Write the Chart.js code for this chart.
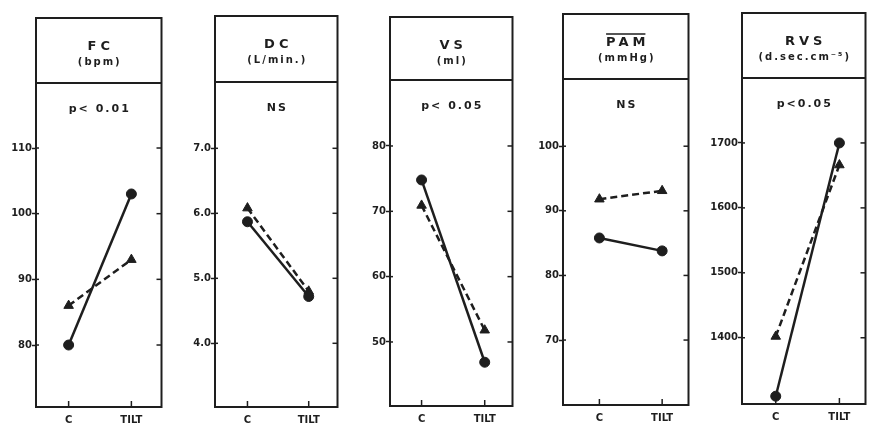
<!DOCTYPE html>
<html>
<head>
<meta charset="utf-8">
<script src="https://cdn.jsdelivr.net/npm/chart.js@4/dist/chart.umd.min.js"></script>
<style>
  html, body { margin:0; padding:0; background:#ffffff; overflow:hidden; }
  body { width:871px; height:425px; position:relative; }
  .panel { position:absolute; top:0; height:425px; }
</style>
</head>
<body>
<div id="wrap"></div>
<script>
// ---- data ----
const categories = ['C', 'TILT'];

const titles = ['FC', 'DC', 'VS', 'PAM', 'RVS'];
const units  = ['(bpm)', '(L/min.)', '(ml)', '(mmHg)', '(d.sec.cm\u207B\u2075)'];
const pvalues = ['p< 0.01', 'NS', 'p< 0.05', 'NS', 'p<0.05'];

const fcCircle = [80, 103];
const fcTriangle = [86, 93];
const fcTicks = [80, 90, 100, 110];
const fcTickLabels = ['80', '90', '100', '110'];

const dcCircle = [5.87, 4.72];
const dcTriangle = [6.08, 4.80];
const dcTicks = [4, 5, 6, 7];
const dcTickLabels = ['4.0', '5.0', '6.0', '7.0'];

const vsCircle = [74.8, 46.9];
const vsTriangle = [70.9, 51.8];
const vsTicks = [50, 60, 70, 80];
const vsTickLabels = ['50', '60', '70', '80'];

const pamCircle = [85.8, 83.8];
const pamTriangle = [91.8, 93.1];
const pamTicks = [70, 80, 90, 100];
const pamTickLabels = ['70', '80', '90', '100'];

const rvsCircle = [1310, 1700];
const rvsTriangle = [1402, 1666];
const rvsTicks = [1400, 1500, 1600, 1700];
const rvsTickLabels = ['1400', '1500', '1600', '1700'];

// ---- layout (positions / sizes) ----
const INK = '#1e1e1e';
const panels = [
  { circle: fcCircle,  tri: fcTriangle,  ticks: fcTicks,  labels: fcTickLabels,  L:36,  R:166, T:18, D:83, B:407, ymin:70.56, ymax:119.9, xmin:-0.52, xmax:1.48 },
  { circle: dcCircle,  tri: dcTriangle,  ticks: dcTicks,  labels: dcTickLabels,  L:215, R:342, T:16, D:82, B:407, ymin:3.02,  ymax:8.02,  xmin:-0.53, xmax:1.47 },
  { circle: vsCircle,  tri: vsTriangle,  ticks: vsTicks,  labels: vsTickLabels,  L:390, R:517, T:17, D:80, B:406, ymin:40.2,  ymax:90.1,  xmin:-0.50, xmax:1.44 },
  { circle: pamCircle, tri: pamTriangle, ticks: pamTicks, labels: pamTickLabels, L:563, R:693, T:14, D:79, B:405, ymin:59.95, ymax:110.4, xmin:-0.58, xmax:1.42 },
  { circle: rvsCircle, tri: rvsTriangle, ticks: rvsTicks, labels: rvsTickLabels, L:742, R:870, T:13, D:78, B:404, ymin:1298,  ymax:1800,  xmin:-0.53, xmax:1.41 }
];
const YAXW = 40;

function drawSpaced(ctx, text, x, y, spacing) {
  ctx.letterSpacing = spacing + 'px';
  const w = ctx.measureText(text).width - spacing;
  ctx.textAlign = 'left';
  ctx.fillText(text, x - w / 2, y);
  ctx.letterSpacing = '0px';
  return w;
}

const panelPlugin = {
  id: 'panelFrame',
  afterDraw(chart, args, opts) {
    const ctx = chart.ctx;
    const a = chart.chartArea;
    const ys = chart.scales.y, xs = chart.scales.x;
    ctx.save();
    ctx.strokeStyle = INK;
    ctx.fillStyle = INK;
    ctx.lineWidth = 2;
    // outer box
    ctx.strokeRect(a.left, opts.top, a.right - a.left, a.bottom - opts.top);
    // header divider
    ctx.beginPath();
    ctx.moveTo(a.left, a.top); ctx.lineTo(a.right, a.top);
    ctx.stroke();
    // right inward ticks
    ctx.lineWidth = 1.5;
    ys.ticks.forEach(t => {
      const y = ys.getPixelForValue(t.value);
      ctx.beginPath(); ctx.moveTo(a.right - 5, y); ctx.lineTo(a.right, y); ctx.stroke();
    });
    // bottom inward ticks
    xs.ticks.forEach(t => {
      const x = xs.getPixelForValue(t.value);
      ctx.beginPath(); ctx.moveTo(x, a.bottom); ctx.lineTo(x, a.bottom - 6); ctx.stroke();
    });
    // left ticks crossing the border slightly inward
    ys.ticks.forEach(t => {
      const y = ys.getPixelForValue(t.value);
      ctx.beginPath(); ctx.moveTo(a.left, y); ctx.lineTo(a.left + 3, y); ctx.stroke();
    });
    // header text
    const cx = (a.left + a.right) / 2;
    ctx.textBaseline = 'middle';
    ctx.font = 'bold 13px "DejaVu Sans"';
    const w = drawSpaced(ctx, opts.title, cx, opts.top + 29, 4);
    if (opts.overline) {
      ctx.lineWidth = 1.5;
      ctx.beginPath();
      ctx.moveTo(cx - w / 2, opts.top + 20); ctx.lineTo(cx + w / 2, opts.top + 20);
      ctx.stroke();
    }
    ctx.font = 'bold 10px "DejaVu Sans"';
    drawSpaced(ctx, opts.units, cx, opts.top + 44, 2);
    ctx.font = 'bold 11px "DejaVu Sans"';
    drawSpaced(ctx, opts.pval, cx, a.top + 26, 2);
    ctx.restore();
  }
};

const wrap = document.getElementById('wrap');
panels.forEach((p, i) => {
  const div = document.createElement('div');
  div.className = 'panel';
  div.style.left = (p.L - YAXW) + 'px';
  div.style.width = (p.R - p.L + YAXW + 2) + 'px';
  const cv = document.createElement('canvas');
  div.appendChild(cv);
  wrap.appendChild(div);

  const toPts = vals => vals.map((v, k) => ({ x: k, y: v }));

  new Chart(cv, {
    type: 'line',
    data: {
      datasets: [
        {
          label: 'circle',
          data: toPts(p.circle),
          borderColor: INK, backgroundColor: INK,
          borderWidth: 2.5, pointStyle: 'circle', pointRadius: 5,
          pointBorderWidth: 1, tension: 0, clip: false
        },
        {
          label: 'triangle',
          data: toPts(p.tri),
          borderColor: INK, backgroundColor: INK,
          borderWidth: 2.5, borderDash: [7, 4], pointStyle: 'triangle', pointRadius: 5.5,
          pointBorderWidth: 1, tension: 0, clip: false
        }
      ]
    },
    options: {
      responsive: true,
      maintainAspectRatio: false,
      animation: false,
      events: [],
      layout: { padding: { left: 0, right: 2, top: p.D, bottom: 0 } },
      plugins: {
        legend: { display: false },
        tooltip: { enabled: false },
        panelFrame: {
          top: p.T, title: titles[i], units: units[i], pval: pvalues[i],
          overline: titles[i] === 'PAM'
        }
      },
      scales: {
        x: {
          type: 'linear', min: p.xmin, max: p.xmax,
          afterBuildTicks: s => { s.ticks = categories.map((c, k) => ({ value: k })); },
          afterFit: s => { s.height = 425 - p.B; },
          ticks: {
            callback: v => categories[v],
            color: INK, font: { family: 'DejaVu Sans', size: 10, weight: 'bold' },
            padding: 7, maxRotation: 0, autoSkip: false
          },
          grid: { display: false, drawTicks: false },
          border: { display: false }
        },
        y: {
          type: 'linear', min: p.ymin, max: p.ymax,
          afterBuildTicks: s => { s.ticks = p.ticks.map(v => ({ value: v })); },
          afterFit: s => { s.width = YAXW; },
          ticks: {
            callback: v => p.labels[p.ticks.indexOf(v)],
            color: INK, font: { family: 'DejaVu Sans', size: 10, weight: 'bold' },
            padding: 0, autoSkip: false
          },
          grid: { drawOnChartArea: false, drawTicks: true, tickLength: 4, color: INK, tickWidth: 1.5 },
          border: { display: false }
        }
      }
    },
    plugins: [panelPlugin]
  });
});
</script>
</body>
</html>
